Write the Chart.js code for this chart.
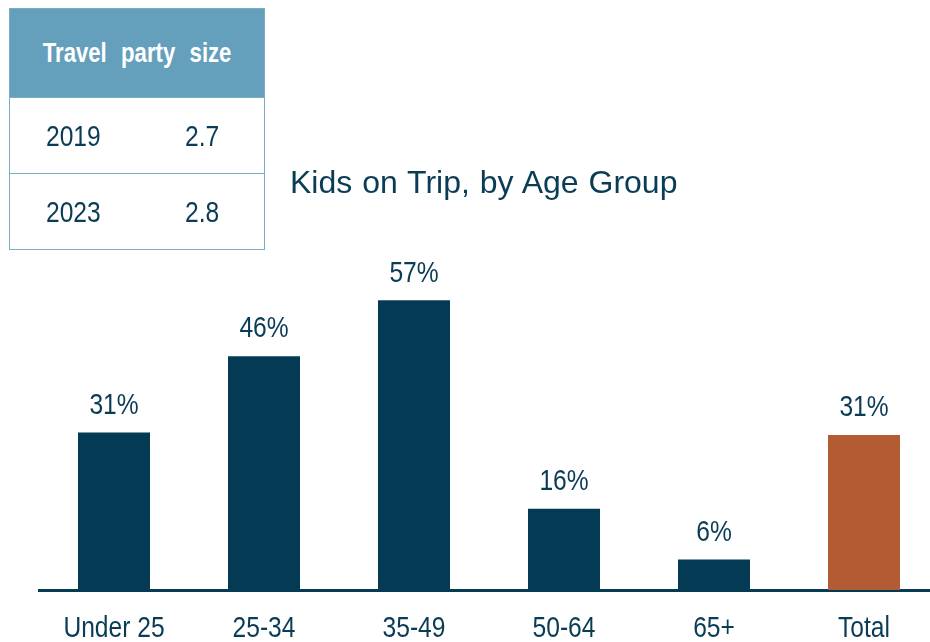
<!DOCTYPE html>
<html>
<head>
<meta charset="utf-8">
<script src="https://cdn.jsdelivr.net/npm/chart.js@4"></script>
<style>
	html, body { margin: 0; padding: 0; background: #fff; overflow: hidden; }
	body { width: 930px; height: 642px; position: relative; }
	#wrap { position: absolute; left: 0; top: 0; width: 945px; height: 642px; }
	#title {
		position: absolute; left: 290px; top: 164px;
		font-family: "Liberation Sans", Arial, sans-serif; font-size: 32px;
		color: #0b3c55; white-space: nowrap; word-spacing: 1px;
	}
	#party {
		position: absolute; left: 9px; top: 8px; width: 256px;
		border-collapse: collapse; border: 1px solid #7aaec6;
		font-family: "Liberation Sans", Arial, sans-serif;
		color: #0b3c55;
	}
	#party th {
		background: #64a0bc; color: #fff; height: 88px; padding: 0;
		font-size: 27px; font-weight: bold; text-align: center;
	}
	#party th span { display: inline-block; transform: scaleX(0.82); word-spacing: 10px; white-space: nowrap; }
	#party td { height: 75px; font-size: 30px; padding: 0; border-top: 1px solid #7aaec6; }
	#party td span { display: inline-block; transform: scaleX(0.82); transform-origin: left center; }
	#party td.yr { padding-left: 36px; }
	#party td.val { width: 79px; }
</style>
</head>
<body>
<div id="wrap"><canvas id="kidsChart"></canvas></div>
<div id="title">Kids on Trip, by Age Group</div>
<table id="party">
	<tr><th colspan="2"><span>Travel party size</span></th></tr>
	<tr><td class="yr"><span id="y0"></span></td><td class="val"><span id="v0"></span></td></tr>
	<tr><td class="yr"><span id="y1"></span></td><td class="val"><span id="v1"></span></td></tr>
</table>
<script>
const ageGroups = ["Under 25", "25-34", "35-49", "50-64", "65+", "Total"];
const kidsShare = [31, 46, 57, 16, 6, 30.5];
const partyYears = ["2019", "2023"];
const partySize = [2.7, 2.8];

partyYears.forEach((yr, i) => {
	document.getElementById(`y${i}`).textContent = yr;
	document.getElementById(`v${i}`).textContent = partySize[i].toFixed(1);
});

const navy = "#053a55";
const rust = "#b35c34";
const textColor = "#0b3c55";
const barColors = ageGroups.map((g) => (g === "Total" ? rust : navy));

// narrow text: squeeze Liberation Sans horizontally (no Arial Narrow here)
function narrowText(ctx, text, x, y) {
	ctx.save();
	ctx.translate(x, y);
	ctx.scale(0.82, 1);
	ctx.fillText(text, 0, 0);
	ctx.restore();
}

// value labels above each bar, category labels under the axis
const barText = {
	id: "barText",
	afterDraw(chart) {
		const ctx = chart.ctx;
		const meta = chart.getDatasetMeta(0);
		const xScale = chart.scales.x;
		ctx.save();
		ctx.font = '30px "Liberation Sans", Arial, sans-serif';
		ctx.fillStyle = textColor;
		ctx.textAlign = "center";
		ctx.textBaseline = "middle";
		meta.data.forEach((bar, i) => {
			narrowText(ctx, Math.round(kidsShare[i]) + "%", bar.x, bar.y - 27);
		});
		ageGroups.forEach((g, i) => {
			narrowText(ctx, g, xScale.getPixelForTick(i), xScale.top + 39);
		});
		ctx.restore();
	},
};

const canvas = document.getElementById("kidsChart");
canvas.width = 945;
canvas.height = 642;

new Chart(canvas.getContext("2d"), {
	type: "bar",
	data: {
		labels: ageGroups,
		datasets: [
			{
				data: kidsShare,
				backgroundColor: barColors,
				borderWidth: 0,
				barPercentage: 0.48,
				categoryPercentage: 1,
			},
		],
	},
	options: {
		responsive: false,
		animation: false,
		events: [],
		layout: {
			padding: { left: 39, right: 6, top: 285, bottom: 0 },
		},
		scales: {
			y: {
				display: false,
				min: 0,
				max: 60,
			},
			x: {
				grid: { display: false, drawTicks: false },
				border: { display: true, color: navy, width: 3 },
				ticks: { display: false },
				afterFit(scale) {
					scale.height = 52;
				},
			},
		},
		plugins: {
			legend: { display: false },
			tooltip: { enabled: false },
		},
	},
	plugins: [barText],
});
</script>
</body>
</html>
